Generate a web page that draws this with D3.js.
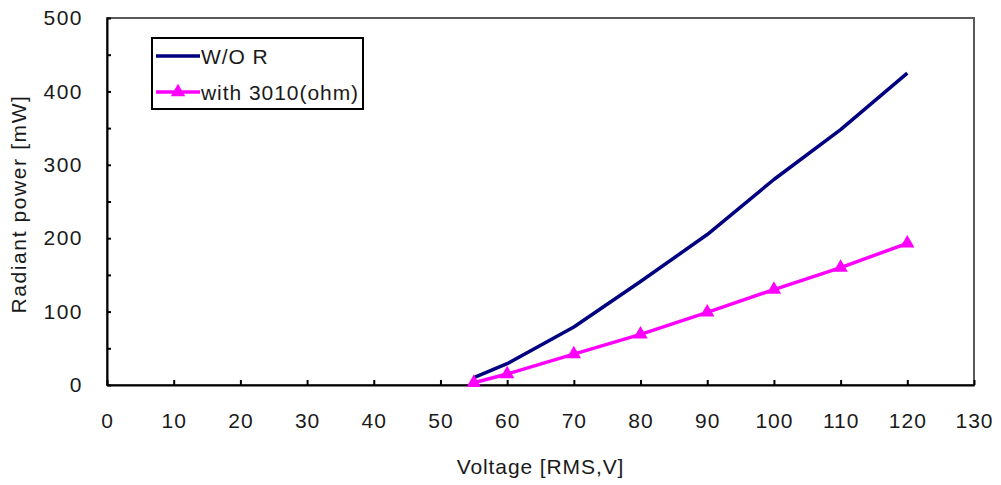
<!DOCTYPE html>
<html lang="en">
<head>
  <meta charset="UTF-8">
  <title>Radiant power vs Voltage</title>
  <script src="https://d3js.org/d3.v7.min.js"></script>
  <style>
    body {
      margin: 0;
      background-color: #ffffff;
    }
    svg text {
      font-family: "Liberation Sans", Arial, sans-serif;
      fill: #1a1a1a;
    }
  </style>
</head>
<body>
  <svg id="chart"></svg>
  <script>
    // data
    const voltage = [55, 60, 70, 80, 90, 100, 110, 120];
    const powerNoR = [10, 29, 79, 141, 205, 280, 348, 425];
    const power3010 = [3, 15, 42, 69, 99, 130, 160, 193];
    const seriesNames = ["W/O R", "with 3010(ohm)"];
    const xTicks = d3.range(0, 131, 10);
    const yTicks = d3.range(0, 501, 100);
    const yMinorTicks = d3.range(0, 501, 50);

    const svgWidth = 1001;
    const svgHeight = 485;
    const plot = { left: 107, right: 974, top: 18, bottom: 385 };

    const svg = d3.select("#chart")
                  .attr("width", svgWidth)
                  .attr("height", svgHeight);

    const x = d3.scaleLinear()
                .domain([0, 130])
                .range([plot.left, plot.right]);

    const y = d3.scaleLinear()
                .domain([0, 500])
                .range([plot.bottom, plot.top]);

    // plot frame
    svg.append("rect")
       .attr("x", plot.left)
       .attr("y", plot.top)
       .attr("width", plot.right - plot.left)
       .attr("height", plot.bottom - plot.top)
       .attr("fill", "none")
       .attr("stroke", "#5a5a5a")
       .attr("stroke-width", 2);

    // x axis, ticks pointing inside
    const xAxis = svg.append("g")
       .attr("transform", `translate(0, ${plot.bottom})`)
       .call(d3.axisBottom(x).tickValues(xTicks).tickSizeInner(-5).tickSizeOuter(0).tickPadding(28));
    xAxis.select(".domain").attr("stroke", "#000").attr("stroke-width", 2);
    xAxis.selectAll(".tick line").attr("stroke", "#000").attr("stroke-width", 2);
    xAxis.selectAll("text")
         .attr("font-size", 21)
         .attr("letter-spacing", 1)
         .attr("fill", "#1a1a1a");

    // y axis
    const yAxis = svg.append("g")
       .attr("transform", `translate(${plot.left}, 0)`)
       .call(d3.axisLeft(y).tickValues(yMinorTicks).tickSizeInner(-4).tickSizeOuter(0).tickPadding(24)
               .tickFormat(d => yTicks.includes(d) ? d : ""));
    yAxis.select(".domain").attr("stroke", "#000").attr("stroke-width", 2);
    yAxis.selectAll(".tick line").attr("stroke", "#000").attr("stroke-width", 2);
    yAxis.selectAll("text")
         .attr("font-size", 21)
         .attr("letter-spacing", 1.5)
         .attr("fill", "#1a1a1a");

    // axis titles
    svg.append("text")
       .attr("x", (plot.left + plot.right) / 2)
       .attr("y", 474)
       .attr("text-anchor", "middle")
       .attr("font-size", 21)
       .attr("letter-spacing", 0.9)
       .text("Voltage [RMS,V]");

    svg.append("text")
       .attr("transform", "translate(26, 204) rotate(-90)")
       .attr("text-anchor", "middle")
       .attr("font-size", 21)
       .attr("letter-spacing", 1.6)
       .text("Radiant power [mW]");

    const line = d3.line()
                   .x(d => x(d[0]))
                   .y(d => y(d[1]));

    svg.append("path")
       .datum(d3.zip(voltage, powerNoR))
       .attr("d", line)
       .attr("fill", "none")
       .attr("stroke", "#000080")
       .attr("stroke-width", 3.5)
       .attr("stroke-linejoin", "round");

    svg.append("path")
       .datum(d3.zip(voltage, power3010))
       .attr("d", line)
       .attr("fill", "none")
       .attr("stroke", "#ff00ff")
       .attr("stroke-width", 3.5)
       .attr("stroke-linejoin", "round");

    const tri = d3.symbol().type(d3.symbolTriangle).size(90);

    svg.selectAll(".marker")
       .data(d3.zip(voltage, power3010))
       .enter()
       .append("path")
       .attr("class", "marker")
       .attr("d", tri)
       .attr("transform", d => `translate(${x(d[0])}, ${y(d[1])})`)
       .attr("fill", "#ff00ff");

    // legend
    const legend = svg.append("g");
    legend.append("rect")
          .attr("x", 152)
          .attr("y", 38)
          .attr("width", 211)
          .attr("height", 71)
          .attr("fill", "#fff")
          .attr("stroke", "#000")
          .attr("stroke-width", 2);

    const legendRows = [
      { name: seriesNames[0], color: "#000080", marker: false, y: 56 },
      { name: seriesNames[1], color: "#ff00ff", marker: true, y: 92 }
    ];

    legendRows.forEach(r => {
      legend.append("line")
            .attr("x1", 156).attr("x2", 200)
            .attr("y1", r.y).attr("y2", r.y)
            .attr("stroke", r.color)
            .attr("stroke-width", 3.5);
      if (r.marker) {
        legend.append("path")
              .attr("d", tri)
              .attr("transform", `translate(178, ${r.y})`)
              .attr("fill", r.color);
      }
      legend.append("text")
            .attr("x", 201)
            .attr("y", r.y + 8)
            .attr("font-size", 21)
            .attr("letter-spacing", 0.95)
            .text(r.name);
    });
  </script>
</body>
</html>
